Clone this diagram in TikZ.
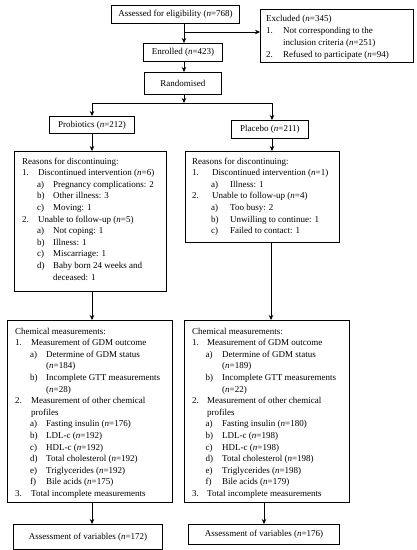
\documentclass[tikz,border=0pt]{standalone}
\usepackage{fontspec}
\setmainfont{Liberation Serif}
\usetikzlibrary{arrows.meta}
\newcommand\myfs{\fontsize{9}{11.6}\selectfont}
\newlength\ila \newlength\ilb \newlength\ilc
\newcommand\Ia[2]{\makebox[\ila][l]{#1}#2}
\newcommand\Ib[2]{\hspace*{\ilb}\makebox[\ilc][l]{#1}#2}
\newcommand\Ic[1]{\hspace*{\dimexpr\ilb+\ilc\relax}#1}
\newcommand\Id[1]{\hspace*{\ila}#1}
\newcommand\nn{\textit{n}}
\begin{document}
\begin{tikzpicture}[x=1pt,y=-1pt,
  box/.style={draw, line width=0.9pt, anchor=north west, inner sep=0pt, font=\myfs},
  lst/.style={anchor=north west, inner sep=0pt, align=left, font=\myfs},
  arr/.style={line width=0.75pt, -{Stealth[length=5pt,width=4.5pt]}},
  ln/.style={line width=0.75pt}]
\useasboundingbox (0,0) rectangle (417,550);

% boxes
\node[box, minimum width=128pt, minimum height=18pt] (assess) at (111,5) {Assessed for eligibility (\nn=768)};
\node[box, minimum width=153pt, minimum height=53pt] (excl) at (260,9) {};
\node[box, minimum width=79pt, minimum height=18pt] (enrol) at (143,43) {Enrolled (\nn=423)};
\node[box, minimum width=77pt, minimum height=22pt] (rand) at (144,72) {Randomised};
\node[box, minimum width=85pt, minimum height=17pt] (prob) at (49,116) {Probiotics (\nn=212)};
\node[box, minimum width=77pt, minimum height=18pt] (plac) at (231,120) {Placebo (\nn=211)};
\node[box, minimum width=152pt, minimum height=140pt] (reasL) at (14,151) {};
\node[box, minimum width=154pt, minimum height=91pt] (reasR) at (185,151) {};
\node[box, minimum width=165pt, minimum height=182pt] (chemL) at (7,320) {};
\node[box, minimum width=165pt, minimum height=182pt] (chemR) at (184,320) {};
\node[box, minimum width=149pt, minimum height=25pt] (assL) at (13,524) {Assessment of variables (\nn=172)};
\node[box, minimum width=151pt, minimum height=20pt] (assR) at (188,524) {Assessment of variables (\nn=176)};

% list texts
\setlength\ila{17pt}
\node[lst, font=\fontsize{9}{12}\selectfont] (exclT) at (266,14.6) {Excluded (\nn=345)\\
\Ia{1.}{Not corresponding to the}\\
\Id{inclusion criteria (\nn=251)}\\
\Ia{2.}{Refused to participate (\nn=94)}};

\setlength\ila{16pt}\setlength\ilb{15pt}\setlength\ilc{16pt}
\node[lst] (reasLT) at (22,157.6) {Reasons for discontinuing:\\
\Ia{1.}{Discontinued intervention (\nn=6)}\\
\Ib{a)}{Pregnancy complications: 2}\\
\Ib{b)}{Other illness: 3}\\
\Ib{c)}{Moving: 1}\\
\Ia{2.}{Unable to follow-up (\nn=5)}\\
\Ib{a)}{Not coping: 1}\\
\Ib{b)}{Illness: 1}\\
\Ib{c)}{Miscarriage: 1}\\
\Ib{d)}{Baby born 24 weeks and}\\
\Ic{deceased: 1}};

\setlength\ila{20pt}\setlength\ilb{19pt}\setlength\ilc{19pt}
\node[lst] (reasRT) at (192,157.6) {Reasons for discontinuing:\\
\Ia{1.}{Discontinued intervention (\nn=1)}\\
\Ib{a)}{Illness: 1}\\
\Ia{2.}{Unable to follow-up (\nn=4)}\\
\Ib{a)}{Too busy: 2}\\
\Ib{b)}{Unwilling to continue: 1}\\
\Ib{c)}{Failed to contact: 1}};

\setlength\ila{16pt}\setlength\ilb{15pt}\setlength\ilc{16pt}
\node[lst] (chemLT) at (15,327.6) {Chemical measurements:\\
\Ia{1.}{Measurement of GDM outcome}\\
\Ib{a)}{Determine of GDM status}\\
\Ic{(\nn=184)}\\
\Ib{b)}{Incomplete GTT measurements}\\
\Ic{(\nn=28)}\\
\Ia{2.}{Measurement of other chemical}\\
\Id{profiles}\\
\Ib{a)}{Fasting insulin (\nn=176)}\\
\Ib{b)}{LDL-c (\nn=192)}\\
\Ib{c)}{HDL-c (\nn=192)}\\
\Ib{d)}{Total cholesterol (\nn=192)}\\
\Ib{e)}{Triglycerides (\nn=192)}\\
\Ib{f)}{Bile acids (\nn=175)}\\
\Ia{3.}{Total incomplete measurements}};

\setlength\ila{15pt}\setlength\ilb{13.5pt}\setlength\ilc{16.5pt}
\node[lst] (chemRT) at (192,327.6) {Chemical measurements:\\
\Ia{1.}{Measurement of GDM outcome}\\
\Ib{a)}{Determine of GDM status}\\
\Ic{(\nn=189)}\\
\Ib{b)}{Incomplete GTT measurements}\\
\Ic{(\nn=22)}\\
\Ia{2.}{Measurement of other chemical}\\
\Id{profiles}\\
\Ib{a)}{Fasting insulin (\nn=180)}\\
\Ib{b)}{LDL-c (\nn=198)}\\
\Ib{c)}{HDL-c (\nn=198)}\\
\Ib{d)}{Total cholesterol (\nn=198)}\\
\Ib{e)}{Triglycerides (\nn=198)}\\
\Ib{f)}{Bile acids (\nn=179)}\\
\Ia{3.}{Total incomplete measurements}};

% connector guides
\coordinate (ax) at (184,0);
\coordinate (ey) at (0,32);
\coordinate (split) at (184,103);
\coordinate (pax) at (92,0);
\coordinate (plx) at (272,0);
\coordinate (rx) at (271,0);
\coordinate (cx) at (264,0);

% connectors
\draw[arr] (assess.south -| ax) -- (enrol.north -| ax);
\draw[arr] (ax |- ey) -- (excl.west |- ey);
\draw[arr] (enrol.south -| ax) -- (rand.north -| ax);
\draw[arr] (rand.south -| ax) -- (split);
\draw[arr] (split) -| (prob.north -| pax);
\draw[arr] (split) -| (plac.north -| plx);
\draw[arr] (prob.south -| pax) -- (reasL.north -| pax);
\draw[arr] (plac.south -| plx) -- (reasR.north -| plx);
\draw[arr] (reasL.south -| pax) -- (chemL.north -| pax);
\draw[arr] (reasR.south -| rx) -- (chemR.north -| rx);
\draw[arr] (chemL.south -| pax) -- (assL.north -| pax);
\draw[arr] (chemR.south -| cx) -- (assR.north -| cx);
\end{tikzpicture}
\end{document}
